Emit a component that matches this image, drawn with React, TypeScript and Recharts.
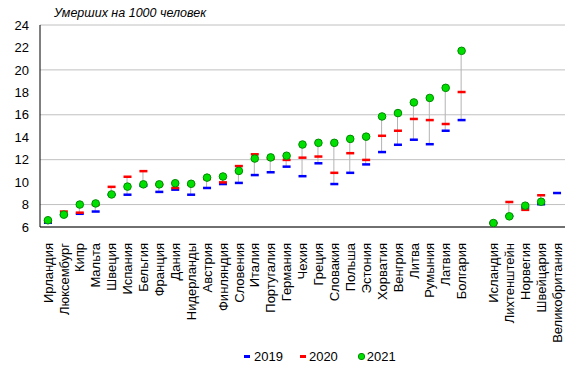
import React from 'react'
import {
  ComposedChart,
  Bar,
  Line,
  XAxis,
  YAxis,
  CartesianGrid,
} from 'recharts'

const countries = [
  'Ирландия', 'Люксембург', 'Кипр', 'Мальта', 'Швеция', 'Испания', 'Бельгия',
  'Франция', 'Дания', 'Нидерланды', 'Австрия', 'Финляндия', 'Словения', 'Италия',
  'Португалия', 'Германия', 'Чехия', 'Греция', 'Словакия', 'Польша', 'Эстония',
  'Хорватия', 'Венгрия', 'Литва', 'Румыния', 'Латвия', 'Болгария', '',
  'Исландия', 'Лихтенштейн', 'Норвегия', 'Швейцария', 'Великобритания',
]

const y2019 = [
  6.4, 7.1, 7.2, 7.4, 8.9, 8.9, 9.7, 9.15, 9.35, 8.9, 9.5, 9.85, 9.95, 10.65,
  10.9, 11.4, 10.55, 11.7, 9.85, 10.85, 11.6, 12.7, 13.35, 13.8, 13.4, 14.6, 15.55, null,
  6.4, 7.0, 7.75, 8.05, 9.05,
]

const y2020 = [
  6.5, 7.4, 7.3, 8.0, 9.6, 10.5, 11.0, 9.8, 9.5, 9.8, 10.3, 10.0, 11.45, 12.5,
  12.1, 12.0, 12.2, 12.3, 10.85, 12.6, 12.0, 14.15, 14.6, 15.65, 15.55, 15.2, 18.05, null,
  6.35, 8.25, 7.55, 8.85, null,
]

const y2021 = [
  6.6, 7.1, 8.0, 8.1, 8.9, 9.6, 9.8, 9.8, 9.9, 9.85, 10.4, 10.5, 11.0, 12.1,
  12.2, 12.35, 13.35, 13.5, 13.5, 13.85, 14.05, 15.85, 16.15, 17.1, 17.5, 18.4, 21.7, null,
  6.35, 6.95, 7.9, 8.25, null,
]

const yTicks = [6, 8, 10, 12, 14, 16, 18, 20, 22, 24]

const data = countries.map((name, i) => {
  const vals = [y2019[i], y2020[i], y2021[i]].filter((v) => v != null) as number[]
  return {
    name,
    y2019: y2019[i],
    y2020: y2020[i],
    y2021: y2021[i],
    range: vals.length ? [Math.min(...vals), Math.max(...vals)] : null,
  }
})

const FONT = '"Liberation Sans", Arial, sans-serif'

const Dash = (color: string) => (props: any) => {
  const { cx, cy, value } = props
  if (value == null || cy == null) return <g key={props.key} />
  return <rect key={props.key} x={cx - 4} y={cy - 1} width={8} height={2.5} fill={color} />
}

const Dot = (props: any) => {
  const { cx, cy, value } = props
  if (value == null || cy == null) return <g key={props.key} />
  return <circle key={props.key} cx={cx} cy={cy} r={3.8} fill="#00e000" stroke="#008a00" strokeWidth={1} />
}

const CountryTick = (props: any) => {
  const { x, y, payload } = props
  return (
    <text
      x={x}
      y={y + 8}
      transform={`rotate(-90 ${x} ${y + 8})`}
      textAnchor="end"
      dy="0.36em"
      fontSize={13}
      fontFamily={FONT}
      fill="#000"
    >
      {payload.value}
    </text>
  )
}

export default function App() {
  return (
    <div style={{ position: 'absolute', left: 0, top: 0, width: 580, height: 375, background: '#fff', fontFamily: FONT }}>
      <div style={{ position: 'absolute', left: 54, top: 6, fontSize: 12.5, fontStyle: 'italic', color: '#000' }}>
        Умерших на 1000 человек
      </div>
      <ComposedChart
        width={580}
        height={375}
        data={data}
        margin={{ top: 25, right: 15, left: 0, bottom: 0 }}
      >
        <CartesianGrid horizontal vertical={false} stroke="#c0c0c0" />
        <XAxis
          dataKey="name"
          interval={0}
          height={148}
          tickLine={false}
          axisLine={{ stroke: '#000' }}
          tick={<CountryTick />}
        />
        <XAxis
          xAxisId="top"
          dataKey="name"
          orientation="top"
          height={0}
          tick={false}
          tickLine={false}
          axisLine={{ stroke: '#808080' }}
        />
        <YAxis
          domain={[6, 24]}
          ticks={yTicks}
          width={40}
          tickLine={false}
          tickSize={8}
          tickMargin={3}
          axisLine={{ stroke: '#000' }}
          tick={{ fontSize: 13, fill: '#000', fontFamily: FONT }}
          allowDataOverflow
        />
        <YAxis
          yAxisId="right"
          orientation="right"
          domain={[6, 24]}
          width={0}
          tick={false}
          tickLine={false}
          axisLine={{ stroke: '#808080' }}
        />
        <Bar dataKey="range" barSize={1} fill="#b4b4b4" isAnimationActive={false} />
        <Line dataKey="y2019" stroke="none" dot={Dash('#0000ff')} activeDot={false} isAnimationActive={false} />
        <Line dataKey="y2020" stroke="none" dot={Dash('#ff0000')} activeDot={false} isAnimationActive={false} />
        <Line dataKey="y2021" stroke="none" dot={Dot} activeDot={false} isAnimationActive={false} />
      </ComposedChart>
      <div style={{ position: 'absolute', top: 349, left: 244, display: 'flex', alignItems: 'center', fontSize: 13, color: '#000' }}>
        <span style={{ display: 'inline-block', width: 6, height: 3, background: '#0000ff', marginRight: 4 }} />
        <span style={{ marginRight: 17 }}>2019</span>
        <span style={{ display: 'inline-block', width: 6, height: 3, background: '#ff0000', marginRight: 3 }} />
        <span style={{ marginRight: 20 }}>2020</span>
        <span style={{ display: 'inline-block', width: 5, height: 5, borderRadius: 3, background: '#00e000', border: '0.5px solid #008a00', marginRight: 2 }} />
        <span>2021</span>
      </div>
    </div>
  )
}
